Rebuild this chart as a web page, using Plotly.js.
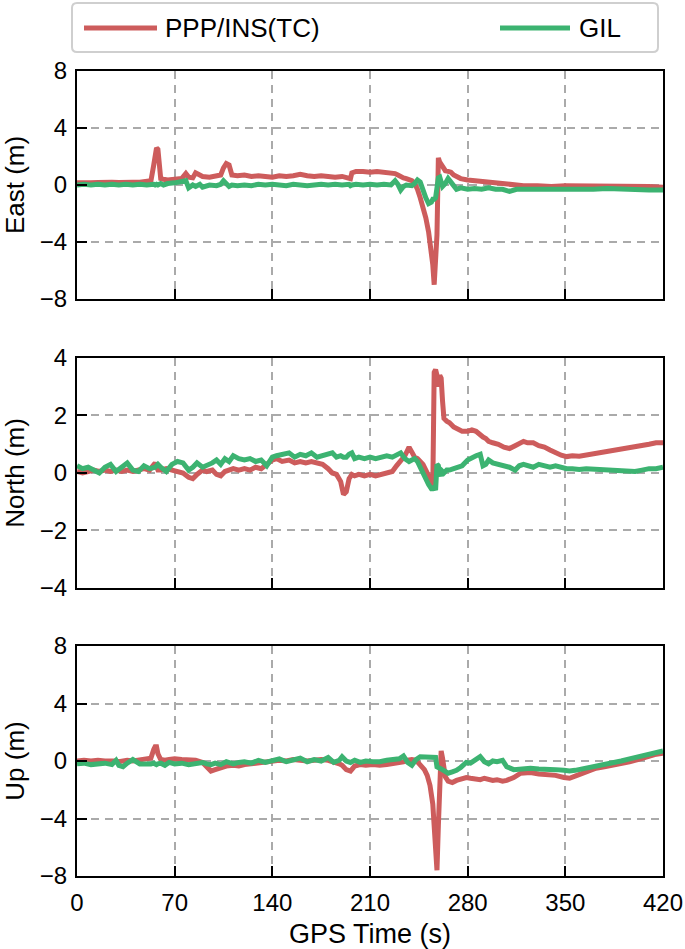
<!DOCTYPE html>
<html>
<head>
<meta charset="utf-8">
<script src="https://cdn.plot.ly/plotly-3.0.1.min.js"></script>
<style>
  html, body { margin: 0; padding: 0; background: #fff; }
  #chart { width: 685px; height: 949px; }
</style>
</head>
<body>
<div id="chart"></div>
<script>
// GPS time (s) and position errors (m)
const tEast = [
  0, 5, 10, 15, 20, 25, 30, 35, 40, 45,
  50, 53, 55, 56, 57, 58, 59, 60, 62, 65,
  70, 75, 78, 80, 83, 85, 88, 90, 95, 100,
  103, 105, 107, 109, 111, 115, 120, 125, 130, 135,
  140, 145, 150, 155, 160, 165, 170, 175, 180, 185,
  190, 195, 196, 197, 200, 205, 210, 215, 220, 225,
  228, 230, 232, 234, 236, 238, 240, 242, 244, 246,
  248, 250, 252, 254, 255, 256, 257, 258, 259, 260,
  262, 264, 266, 268, 270, 272, 275, 280, 285, 290,
  295, 300, 305, 310, 315, 320, 330, 340, 350, 360,
  370, 380, 390, 400, 410, 420
];
const eastPPP = [
  0.15, 0.12, 0.15, 0.18, 0.15, 0.2, 0.18, 0.15, 0.2, 0.2,
  0.22, 0.3, 1.4, 2.4, 2.6, 2.5, 1.2, 0.45, 0.4, 0.35,
  0.4, 0.45, 0.8, 0.55, 0.5, 0.85, 0.7, 0.6, 0.55, 0.65,
  0.7, 1.2, 1.5, 1.4, 0.7, 0.65, 0.7, 0.6, 0.65, 0.6,
  0.55, 0.65, 0.6, 0.65, 0.75, 0.65, 0.6, 0.65, 0.6, 0.55,
  0.6, 0.5, 0.45, 0.85, 0.95, 0.95, 0.9, 0.95, 0.9, 0.9,
  0.8, 0.7, 0.55, 0.5, 0.45, 0.4, 0.3, 0.1, -0.3, -0.9,
  -1.5, -2.3, -3.3, -4.6, -5.6, -7.0, -5.5, -3.5, 1.9, 1.6,
  1.3, 1.0, 0.95, 0.9, 0.7, 0.6, 0.45, 0.35, 0.3, 0.25,
  0.2, 0.15, 0.1, 0.05, 0.0, -0.05, -0.05, -0.1, -0.05, -0.05,
  -0.05, -0.05, -0.05, -0.05, -0.1, -0.15
];
const eastGIL = [
  0.0, 0.05, 0.0, 0.05, 0.0, 0.05, 0.0, 0.05, 0.0, 0.05,
  0.0, 0.05, 0.05, 0.0, 0.05, 0.0, 0.05, 0.1, 0.0, 0.1,
  0.15, 0.2, 0.3, -0.2, 0.0, -0.1, 0.05, -0.15, 0.0, -0.05,
  0.05, 0.3, 0.1, -0.1, 0.0, -0.05, 0.0, -0.05, 0.05, 0.0,
  0.05, 0.0, -0.05, 0.05, 0.0, -0.05, 0.0, 0.05, 0.0, 0.05,
  0.0, 0.05, -0.05, 0.0, 0.05, 0.0, 0.05, 0.0, 0.05, 0.0,
  0.3, 0.05, -0.35, -0.1, 0.0, 0.0, -0.05, 0.1, 0.35, 0.2,
  -0.4, -0.9, -1.3, -1.2, -1.0, -1.0, -0.9, 0.1, 0.5, 0.55,
  -0.1, 0.1, 0.45, 0.2, -0.1, -0.3, -0.2, -0.3, -0.25, -0.3,
  -0.2, -0.3, -0.3, -0.45, -0.3, -0.3, -0.35, -0.3, -0.3, -0.3,
  -0.3, -0.25, -0.3, -0.3, -0.35, -0.35
];

const tNorth = [
  0, 4, 8, 12, 16, 20, 24, 28, 32, 36,
  40, 44, 48, 52, 56, 58, 60, 64, 68, 72,
  76, 80, 83, 86, 90, 93, 97, 100, 103, 106,
  109, 112, 116, 120, 124, 128, 132, 136, 140, 143,
  147, 152, 156, 160, 164, 168, 172, 176, 180, 183,
  186, 189, 191, 193, 195, 197, 199, 202, 206, 210,
  214, 218, 222, 226, 229, 232, 235, 238, 240, 242,
  244, 246, 248, 250, 252, 254, 255, 256, 257, 258,
  259, 260, 261, 262, 263, 265, 267, 270, 273, 276,
  280, 283, 286, 289, 291, 293, 295, 298, 302, 306,
  310, 314, 317, 320, 323, 327, 331, 335, 339, 343,
  347, 351, 355, 360, 365, 370, 375, 380, 385, 390,
  395, 400, 405, 410, 415, 420
];
const northPPP = [
  0.05, 0.0, 0.05, 0.1, 0.05, 0.1, 0.05, 0.1, 0.05, 0.1,
  0.05, 0.1, 0.15, 0.1, 0.35, 0.1, 0.1, 0.15, 0.1, 0.05,
  0.0, -0.15, -0.2, -0.05, 0.1, 0.05, 0.1, -0.05, -0.1, 0.05,
  0.1, 0.15, 0.1, 0.15, 0.1, 0.2, 0.15, 0.3, 0.45, 0.5,
  0.4, 0.45, 0.35, 0.4, 0.35, 0.4, 0.35, 0.3, 0.15, 0.0,
  -0.05, -0.3, -0.75, -0.65, -0.2, -0.05, -0.1, -0.05, -0.1, -0.05,
  -0.1, -0.05, 0.0, 0.05, 0.25, 0.45, 0.6, 0.9, 0.75, 0.55,
  0.5, 0.4, 0.3, 0.1, -0.1, -0.4, -0.5, 3.5, 3.6, 3.4,
  3.0, 3.4, 3.3, 2.5, 1.9, 1.8, 1.75, 1.6, 1.5, 1.45,
  1.45, 1.5, 1.45, 1.3, 1.25, 1.2, 1.1, 1.05, 1.0, 0.9,
  0.85, 0.95, 1.05, 1.1, 1.05, 1.05, 0.95, 0.9, 0.8, 0.7,
  0.62, 0.57, 0.6, 0.58, 0.62, 0.65, 0.7, 0.72, 0.78, 0.8,
  0.85, 0.88, 0.95, 1.0, 1.05, 1.05
];
const northGIL = [
  0.25, 0.15, 0.2, 0.1, 0.0, 0.2, 0.3, 0.05, 0.2, 0.35,
  0.1, 0.05, 0.25, 0.15, 0.2, 0.3, 0.2, 0.05, 0.3, 0.4,
  0.35, 0.1, 0.2, 0.35, 0.2, 0.25, 0.35, 0.45, 0.3, 0.5,
  0.4, 0.6, 0.5, 0.45, 0.5, 0.4, 0.45, 0.25, 0.55, 0.6,
  0.65, 0.7, 0.55, 0.65, 0.6, 0.7, 0.55, 0.6, 0.65, 0.7,
  0.55, 0.6, 0.55, 0.55, 0.65, 0.7, 0.5, 0.55, 0.5, 0.55,
  0.5, 0.55, 0.6, 0.55, 0.65, 0.7, 0.5, 0.4, 0.45, 0.5,
  0.4, 0.2, 0.0, -0.25, -0.4, -0.55, -0.55, -0.5, -0.6, 0.3,
  0.25, 0.0, -0.1, 0.05, 0.0, 0.1, 0.1, 0.15, 0.2, 0.25,
  0.45, 0.55, 0.6, 0.65, 0.25, 0.3, 0.45, 0.35, 0.3, 0.25,
  0.2, 0.1, 0.25, 0.3, 0.25, 0.2, 0.3, 0.25, 0.2, 0.25,
  0.2, 0.15, 0.15, 0.12, 0.15, 0.13, 0.12, 0.1, 0.1, 0.08,
  0.05, 0.05, 0.1, 0.15, 0.15, 0.2
];

const tUp = [
  0, 5, 10, 15, 20, 25, 28, 30, 33, 36,
  40, 45, 50, 53, 55, 56, 57, 58, 60, 63,
  66, 70, 75, 80, 85, 90, 93, 96, 99, 103,
  107, 112, 116, 120, 125, 130, 135, 140, 145, 150,
  155, 160, 165, 170, 175, 180, 184, 188, 190, 193,
  196, 199, 203, 207, 212, 217, 222, 227, 231, 234,
  237, 240, 243, 246, 249, 251, 253, 255, 256, 257,
  258, 259, 260, 261, 262, 264, 266, 269, 272, 275,
  279, 282, 285, 289, 292, 295, 298, 301, 305, 308,
  313, 318, 325, 331, 337, 343, 349, 353, 357, 362,
  366, 372, 378, 384, 390, 396, 402, 408, 414, 420
];
const upPPP = [
  0.0, 0.05, 0.0, 0.05, 0.0, 0.05, 0.0, -0.05, 0.0, 0.05,
  0.0, 0.05, 0.1, 0.2, 0.8, 1.0, 1.0, 0.5, 0.1, 0.05,
  0.1, 0.15, 0.1, 0.1, 0.05, -0.1, -0.4, -0.7, -0.6, -0.45,
  -0.35, -0.3, -0.35, -0.25, -0.2, -0.15, -0.1, 0.0, 0.05, 0.0,
  0.1, 0.05, 0.0, 0.05, 0.1, 0.05, -0.05, -0.2, -0.3, -0.6,
  -0.7, -0.35, -0.25, -0.3, -0.25, -0.3, -0.25, -0.2, -0.15, -0.05,
  0.05, 0.1, 0.05, -0.3, -0.6, -1.0, -1.7, -3.0, -4.5, -6.5,
  -7.6, -4.5, -1.5, 0.7, 0.2, -1.1, -1.4, -1.5, -1.35, -1.3,
  -1.15, -1.2, -1.25, -1.3, -1.2, -1.3, -1.35, -1.3, -1.4, -1.35,
  -1.15, -0.85, -0.8, -0.9, -0.95, -1.0, -1.15, -1.2, -1.05, -0.85,
  -0.7, -0.5, -0.4, -0.3, -0.15, -0.05, 0.1, 0.3, 0.45, 0.55
];
const upGIL = [
  -0.2, -0.15, -0.25, -0.2, -0.15, -0.25, 0.05, -0.3, -0.4, -0.15,
  0.1, -0.2, -0.25, -0.2, -0.15, -0.2, -0.25, -0.2, -0.15, -0.3,
  -0.1, -0.2, -0.15, -0.25, -0.2, -0.1, -0.2, -0.25, -0.15, -0.25,
  -0.05, -0.2, -0.1, -0.05, -0.15, 0.05, -0.1, 0.0, 0.15, -0.05,
  0.1, 0.2, -0.05, 0.1, 0.0, 0.25, -0.1, 0.05, 0.3, 0.0,
  -0.1, 0.05, -0.1, 0.0, -0.05, -0.05, 0.05, 0.1, 0.15, 0.35,
  -0.1, -0.3, 0.1, 0.3, 0.3, 0.3, 0.3, 0.3, 0.3, 0.25,
  -0.4, -0.5, -0.5, -0.55, -0.6, -0.75, -0.85, -0.75, -0.65, -0.45,
  -0.1, -0.15, 0.05, 0.3, -0.05, -0.2, 0.0, -0.05, 0.05, -0.4,
  -0.6, -0.55, -0.5, -0.55, -0.55, -0.6, -0.65, -0.7, -0.65, -0.55,
  -0.5, -0.4, -0.3, -0.15, 0.0, 0.15, 0.3, 0.45, 0.55, 0.7
];

const timeTicks = [0, 70, 140, 210, 280, 350, 420];
const enuTicks = [-8, -4, 0, 4, 8];
const northTicks = [-4, -2, 0, 2, 4];
const seriesNames = ["PPP/INS(TC)", "GIL"];
const RED = "#cd5c5c";
const GREEN = "#3cb371";

// plot area in page pixels, used for the hand-drawn legend
const L = 77, R = 663, T = 71, B = 876;
const px = x => (x - L) / (R - L);
const py = y => (B - y) / (B - T);

const FONT = "Liberation Sans, Arial, sans-serif";

function line(x, y, color, n) {
  return {
    x, y, type: "scatter", mode: "lines",
    xaxis: "x" + (n > 1 ? n : ""), yaxis: "y" + (n > 1 ? n : ""),
    line: { color, width: 5 }, showlegend: false, hoverinfo: "skip"
  };
}

const traces = [
  line(tEast, eastPPP, RED, 1), line(tEast, eastGIL, GREEN, 1),
  line(tNorth, northPPP, RED, 2), line(tNorth, northGIL, GREEN, 2),
  line(tUp, upPPP, RED, 3), line(tUp, upGIL, GREEN, 3)
];

const frame = {
  showline: true, linecolor: "#000", linewidth: 2, mirror: true,
  ticks: "inside", ticklen: 10, tickwidth: 2, tickcolor: "#000",
  showgrid: true, gridcolor: "#aaaaaa", gridwidth: 2, griddash: "8px,6px",
  zeroline: false, tickfont: { family: FONT, size: 24, color: "#000" }
};

function xAxis(anchor, labels) {
  return Object.assign({}, frame, {
    anchor, range: [0, 420], tickvals: timeTicks, domain: [0, 1],
    showticklabels: labels, ticklabelstandoff: 4
  });
}
function yAxis(domain, range, ticks, title) {
  return Object.assign({}, frame, {
    domain, range, tickvals: ticks, ticklabelstandoff: 3,
    title: { text: title, standoff: 8, font: { family: FONT, size: 26, color: "#000" } }
  });
}

const xa = xAxis("y", false);
const xa2 = xAxis("y2", false);
const xa3 = xAxis("y3", true);
xa3.title = { text: "GPS Time (s)", standoff: 12, font: { family: FONT, size: 27, color: "#000" } };

// legend box drawn by hand so the line samples can be long
const r = 5;
const bx0 = 72, bx1 = 658, by0 = 3, by1 = 52;
const boxPath = [
  `M${px(bx0 + r)},${py(by0)}`, `L${px(bx1 - r)},${py(by0)}`,
  `Q${px(bx1)},${py(by0)} ${px(bx1)},${py(by0 + r)}`,
  `L${px(bx1)},${py(by1 - r)}`,
  `Q${px(bx1)},${py(by1)} ${px(bx1 - r)},${py(by1)}`,
  `L${px(bx0 + r)},${py(by1)}`,
  `Q${px(bx0)},${py(by1)} ${px(bx0)},${py(by1 - r)}`,
  `L${px(bx0)},${py(by0 + r)}`,
  `Q${px(bx0)},${py(by0)} ${px(bx0 + r)},${py(by0)}`, "Z"
].join(" ");

const layout = {
  width: 685, height: 949,
  margin: { l: L, r: 685 - R, t: T, b: 949 - B },
  paper_bgcolor: "#fff", plot_bgcolor: "#fff",
  font: { family: FONT, color: "#000" },
  showlegend: false,
  xaxis: xa, xaxis2: xa2, xaxis3: xa3,
  yaxis: yAxis([0.7168, 1], [-8, 8], enuTicks, "East (m)"),
  yaxis2: yAxis([0.3578, 0.6435], [-4, 4], northTicks, "North (m)"),
  yaxis3: yAxis([0, 0.2857], [-8, 8], enuTicks, "Up (m)"),
  shapes: [
    { type: "path", xref: "paper", yref: "paper", path: boxPath,
      line: { color: "#cfcfcf", width: 2 }, fillcolor: "#fff" },
    { type: "line", xref: "paper", yref: "paper", x0: px(84), x1: px(157), y0: py(28), y1: py(28),
      line: { color: RED, width: 5 } },
    { type: "line", xref: "paper", yref: "paper", x0: px(500), x1: px(570), y0: py(28), y1: py(28),
      line: { color: GREEN, width: 5 } }
  ],
  annotations: [
    { xref: "paper", yref: "paper", x: px(163), y: py(28), xanchor: "left", yanchor: "middle",
      text: seriesNames[0], showarrow: false, font: { family: FONT, size: 26, color: "#000" } },
    { xref: "paper", yref: "paper", x: px(577), y: py(28), xanchor: "left", yanchor: "middle",
      text: seriesNames[1], showarrow: false, font: { family: FONT, size: 26, color: "#000" } }
  ]
};

Plotly.newPlot("chart", traces, layout, { staticPlot: true, displayModeBar: false });
</script>
</body>
</html>
